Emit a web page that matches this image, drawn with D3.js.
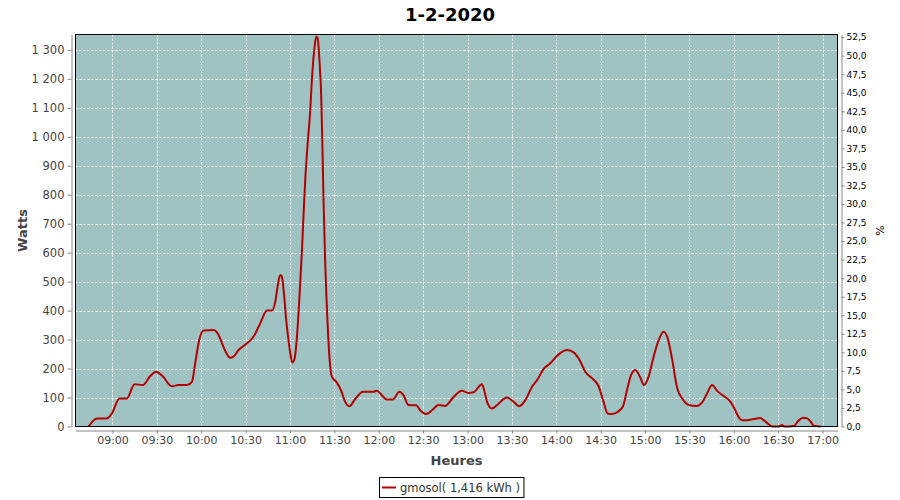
<!DOCTYPE html>
<html><head><meta charset="utf-8">
<script src="https://cdn.jsdelivr.net/npm/d3@7"></script>
<style>html,body{margin:0;padding:0;background:#fff;}svg{display:block;}</style>
</head><body>
<svg id="chart" width="900" height="500"></svg>
<script>
const title = "1-2-2020";
const seriesName = "gmosol( 1,416 kWh )";
const times = ["08:43:48","08:49:30","08:56:12","08:59:36","09:04:42","09:09:42","09:14:54","09:20:30","09:25:30","09:29:30","09:33:48","09:40:12","09:44:36","09:50:18","09:53:42","09:55:54","09:58:36","10:01:30","10:08:18","10:11:42","10:15:00","10:19:36","10:21:48","10:25:12","10:30:54","10:35:18","10:39:54","10:44:24","10:47:48","10:50:00","10:51:36","10:53:24","10:54:30","10:56:06","10:57:24","10:59:00","11:00:12","11:01:30","11:03:06","11:04:42","11:06:24","11:08:06","11:09:06","11:10:18","11:11:48","11:13:42","11:14:48","11:16:24","11:17:42","11:18:36","11:20:00","11:21:06","11:22:00","11:22:42","11:23:48","11:25:24","11:26:48","11:28:18","11:31:18","11:34:24","11:37:18","11:40:12","11:44:06","11:49:18","11:56:30","11:58:42","12:02:06","12:05:30","12:09:18","12:14:00","12:16:42","12:20:06","12:25:18","12:28:00","12:32:06","12:36:00","12:40:24","12:44:54","12:50:36","12:56:12","13:00:42","13:04:06","13:09:48","13:11:30","13:13:12","13:16:30","13:19:54","13:26:42","13:31:12","13:35:00","13:39:06","13:43:36","13:47:00","13:51:24","13:55:54","14:01:36","14:07:12","14:11:42","14:15:48","14:19:36","14:25:12","14:28:36","14:31:36","14:34:42","14:37:42","14:42:06","14:45:06","14:47:48","14:50:30","14:53:24","14:56:48","14:59:18","15:02:24","15:05:48","15:09:12","15:12:30","15:15:18","15:18:12","15:21:36","15:25:36","15:29:30","15:35:06","15:38:30","15:41:54","15:45:18","15:48:42","15:53:12","15:57:30","15:59:48","16:02:00","16:03:54","16:05:30","16:09:00","16:13:30","16:17:54","16:20:12","16:23:30","16:25:48","16:30:00","16:32:36","16:34:00","16:40:36","16:44:00","16:46:54","16:49:36","16:52:18","16:53:54","16:58:42"];
const watts = [0,28,28,45,97,97,146,143,174,189,174,139,143,143,154,218,298,331,333,316,275,237,241,264,287,310,356,400,400,430,483,523,517,448,368,298,252,221,235,310,448,610,725,852,967,1094,1197,1301,1345,1342,1255,1140,944,771,564,356,229,172,154,126,85,70,95,120,120,123,108,93,93,120,108,74,73,56,43,56,74,71,102,123,116,118,146,120,85,62,74,100,85,70,91,137,160,198,218,249,264,256,229,189,162,139,91,45,43,53,70,126,177,195,169,143,172,241,298,327,304,235,135,93,74,71,82,114,143,123,105,87,68,45,28,22,22,26,29,22,8,0,0,5,0,2,22,30,28,14,3,0];
const xTickLabels = ["09:00","09:30","10:00","10:30","11:00","11:30","12:00","12:30","13:00","13:30","14:00","14:30","15:00","15:30","16:00","16:30","17:00"];
const wattTicks = [0,100,200,300,400,500,600,700,800,900,1000,1100,1200,1300];
const pctTicks = [0,2.5,5,7.5,10,12.5,15,17.5,20,22.5,25,27.5,30,32.5,35,37.5,40,42.5,45,47.5,50,52.5];
const xDomain = ["08:35:00","17:10:05"];
const wattMax = 1353;
const wattsPerPercent = 25.6;

const parse = d3.timeParse("%H:%M:%S");
const parseTick = d3.timeParse("%H:%M");
const data = times.map((t,i)=>({t:parse(t), v:watts[i]}));

const L=75.5, R=837.5, T=34.5, B=426.5;
const svg = d3.select("#chart");
const font = "DejaVu Sans, sans-serif";

const x = d3.scaleTime().domain(xDomain.map(parse)).range([L,R]);
const y = d3.scaleLinear().domain([0,wattMax]).range([B,T]);
const yR = d3.scaleLinear().domain([0,wattMax/wattsPerPercent]).range([B,T]);
const xTicks = xTickLabels.map(parseTick);

// plot background
svg.append("rect").attr("x",L).attr("y",T).attr("width",R-L).attr("height",B-T).attr("fill","#9fc3c3");

// grid
const grid = svg.append("g").attr("stroke","#fff").attr("stroke-width",1).attr("stroke-dasharray","2,2");
grid.selectAll("line.v").data(xTicks).join("line").attr("class","v")
  .attr("x1",d=>Math.round(x(d))+0.5).attr("x2",d=>Math.round(x(d))+0.5).attr("y1",T).attr("y2",B);
grid.selectAll("line.h").data(wattTicks.filter(d=>d>0)).join("line").attr("class","h")
  .attr("y1",d=>Math.round(y(d))+0.5).attr("y2",d=>Math.round(y(d))+0.5).attr("x1",L).attr("x2",R);

// line
const line = d3.line().x(d=>x(d.t)).y(d=>y(d.v)).curve(d3.curveMonotoneX);
svg.append("path").datum(data).attr("d",line).attr("fill","none").attr("stroke","#b40000").attr("stroke-width",2).attr("stroke-linejoin","round");

// border
svg.append("rect").attr("x",L).attr("y",T).attr("width",R-L).attr("height",B-T).attr("fill","none").attr("stroke","#000").attr("stroke-width",1);

// axes
function styleAxis(g, color, size){
  g.select(".domain").attr("stroke","#888");
  g.selectAll(".tick line").attr("stroke","#888");
  g.selectAll(".tick text").attr("fill",color).style("font-family",font).style("font-size",size);
}
const fmtW = d=> d>=1000 ? Math.floor(d/1000)+"\u00a0"+d3.format("03d")(d%1000) : String(d);
const gL = svg.append("g").attr("transform",`translate(${L-4},0)`)
  .call(d3.axisLeft(y).tickValues(wattTicks).tickFormat(fmtW).tickSize(4).tickSizeOuter(0).tickPadding(3));
styleAxis(gL,"#444","11.5px");
const gB = svg.append("g").attr("transform",`translate(0,${B+4})`)
  .call(d3.axisBottom(x).tickValues(xTicks).tickFormat((d,i)=>xTickLabels[i]).tickSize(3).tickSizeOuter(0).tickPadding(3));
styleAxis(gB,"#444","11px");
const gR = svg.append("g").attr("transform",`translate(${R+4},0)`)
  .call(d3.axisRight(yR).tickValues(pctTicks).tickFormat(d=>d3.format(".1f")(d).replace(".",",")).tickSize(3).tickSizeOuter(0).tickPadding(2));
styleAxis(gR,"#000","9px");

// axis titles
svg.append("text").attr("transform",`translate(27,${(T+B)/2}) rotate(-90)`).attr("text-anchor","middle")
  .style("font-family",font).style("font-size","13px").style("font-weight","bold").attr("fill","#444").text("Watts");
svg.append("text").attr("x",(L+R)/2).attr("y",465).attr("text-anchor","middle")
  .style("font-family",font).style("font-size","13px").style("font-weight","bold").attr("fill","#444").text("Heures");
svg.append("text").attr("transform",`translate(884,${(T+B)/2}) rotate(-90)`).attr("text-anchor","middle")
  .style("font-family",font).style("font-size","11px").attr("fill","#000").text("%");

// title
svg.append("text").attr("x",450).attr("y",21).attr("text-anchor","middle")
  .style("font-family",font).style("font-size","18px").style("font-weight","bold").attr("fill","#000").text(title);

// legend
const lg = svg.append("g");
const lt = lg.append("text").attr("x",400).attr("y",492).style("font-family",font).style("font-size","11.5px").attr("fill","#333").text(seriesName);
const w = lt.node().getComputedTextLength();
lg.insert("rect","text").attr("x",379.5).attr("y",477.5).attr("width",400+w+4-379.5).attr("height",20).attr("fill","#fff").attr("stroke","#000");
lg.append("line").attr("x1",382).attr("x2",396).attr("y1",487.5).attr("y2",487.5).attr("stroke","#b40000").attr("stroke-width",2);
</script>
</body></html>
